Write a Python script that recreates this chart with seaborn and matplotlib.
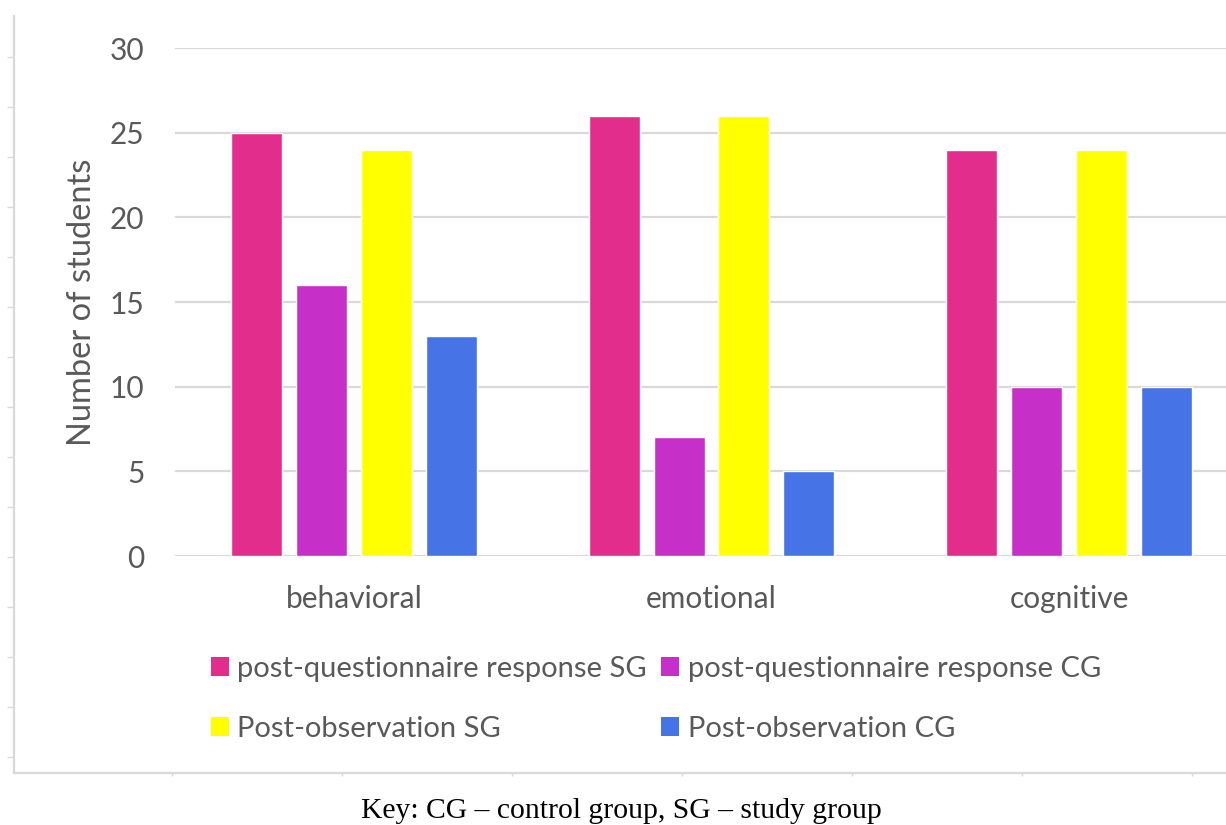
import pandas as pd
import numpy as np
import matplotlib.pyplot as plt
import seaborn as sns
from matplotlib.patches import Patch

# Chart values
categories = ['behavioral', 'emotional', 'cognitive']
series = ['post-questionnaire response SG', 'post-questionnaire response CG',
          'Post-observation SG', 'Post-observation CG']
quest_sg = [25, 26, 24]
quest_cg = [16, 7, 10]
obs_sg = [24, 26, 24]
obs_cg = [13, 5, 10]
colors = ['#E32D8C', '#C730C8', '#FFFF00', '#4674E6']
y_ticks = [0, 5, 10, 15, 20, 25, 30]

data = pd.DataFrame({
    'category': categories * 4,
    'series': [s for s in series for _ in categories],
    'value': quest_sg + quest_cg + obs_sg + obs_cg,
})

sns.set_style('white')
plt.rcParams['font.family'] = ['Lato', 'DejaVu Sans']
text_col = '#595959'
grid_col = '#d9d9d9'

W, H = 1226, 825
fig = plt.figure(figsize=(W / 100, H / 100), dpi=100)

# outer frame with faint ticks (left and bottom)
bg = fig.add_axes([14 / W, (H - 773) / H, (W - 14) / W, (773 - 16) / H], zorder=0)
bg.set_xlim(0, W - 14)
bg.set_ylim(0, 773 - 16)
bg.set_xticks(np.arange(158, W - 14, 170))
bg.set_yticks(np.arange(16, 757, 50))
bg.tick_params(axis='y', left=True, direction='out', length=5, width=1,
               color=grid_col, labelleft=False)
bg.tick_params(axis='x', bottom=True, direction='out', length=2.5, width=1,
               color=grid_col, labelbottom=False)
for s in ['top', 'right']:
    bg.spines[s].set_visible(False)
for s in ['left', 'bottom']:
    bg.spines[s].set_color(grid_col)
    bg.spines[s].set_linewidth(1.6)

# main chart
ax = fig.add_axes([175 / W, (H - 556) / H, (1248 - 175) / W, 508 / H], zorder=1)
ax.patch.set_alpha(0)
sns.barplot(data=data, x='category', y='value', hue='series', order=categories,
            hue_order=series, palette=colors, width=0.726, gap=0.215,
            saturation=1, ax=ax, legend=False)
ax.set_ylim(0, 30)
ax.set_yticks(y_ticks)
ax.grid(axis='y', color=grid_col, linewidth=1.6)
ax.set_axisbelow(True)
for s in ax.spines.values():
    s.set_visible(False)
ax.tick_params(axis='both', length=0, labelsize=21.5, labelcolor=text_col)
ax.tick_params(axis='y', pad=22)
ax.tick_params(axis='x', pad=21)
ax.set_xlabel('')
ax.set_ylabel('Number of students', fontsize=23.5, color=text_col)
ax.yaxis.set_label_coords(-0.0725, 0.5)

# legend: two columns, SG entries on the left
handles = [Patch(facecolor=c, edgecolor='none') for c in colors]
order = [0, 2, 1, 3]
fig.legend([handles[i] for i in order], [series[i] for i in order],
           loc='upper left', bbox_to_anchor=(211 / W, 1 - 656 / H), ncol=2,
           frameon=False, fontsize=21, labelcolor=text_col,
           handlelength=0.6, handleheight=0.6, handletextpad=0.3,
           columnspacing=0.5, labelspacing=1.15, borderpad=0, borderaxespad=0)

fig.text(621 / W, 1 - 811 / H, 'Key: CG \u2013 control group, SG \u2013 study group',
         ha='center', va='center', fontsize=21.3, family='Liberation Serif', color='black')

fig.savefig('out.png', dpi=100)
